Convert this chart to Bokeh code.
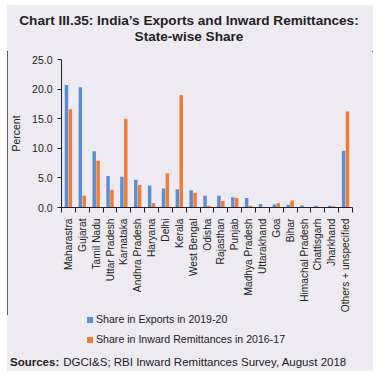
from bokeh.plotting import figure
from bokeh.layouts import column
from bokeh.models import FixedTicker, NumeralTickFormatter, Range1d, Div
from bokeh.embed import file_html
from bokeh.resources import INLINE
import numpy as np

states = ["Maharastra", "Gujarat", "Tamil Nadu", "Uttar Pradesh", "Karnataka",
          "Andhra Pradesh", "Haryana", "Delhi", "Kerala", "West Bengal", "Odisha",
          "Rajasthan", "Punjab", "Madhya Pradesh", "Uttarakhand", "Goa", "Bihar",
          "Himachal Pradesh", "Chattisgarh", "Jharkhand", "Others + unspecified"]
exports_share = [20.7, 20.3, 9.5, 5.3, 5.2, 4.7, 3.7, 3.2, 3.1, 2.9, 2.0,
                 2.0, 1.75, 1.6, 0.6, 0.5, 0.45, 0.35, 0.3, 0.3, 9.6]
remit_share = [16.6, 2.0, 7.9, 3.0, 15.0, 3.8, 0.7, 5.8, 19.0, 2.5, 0.3,
               1.1, 1.6, 0.3, 0.1, 0.7, 1.2, 0.0, 0.0, 0.2, 16.2]
y_ticks = [0, 5, 10, 15, 20, 25]
series_names = ["Share in Exports in 2019-20", "Share in Inward Remittances in 2016-17"]
title_lines = ["Chart III.35: India\u2019s Exports and Inward Remittances:", "State-wise Share"]
source_label = "Sources:"
source_text = "DGCI&amp;S; RBI Inward Remittances Survey, August 2018"
BLUE = "#5B8DD6"
ORANGE = "#EE7D31"
BG = "#EEEAF1"
INK = "#222222"
FONT = "Liberation Sans"

W = 366
HEAD_H, MAIN_H, FOOT_H = 46, 264, 56

# ---- header (title) ----
head = Div(width=W, height=HEAD_H,
           text=("<div style=\"position:relative;width:%dpx;height:%dpx;\">"
                 "<div style=\"position:absolute;left:0;top:8px;width:%dpx;text-align:center;"
                 "font-family:'%s';font-weight:bold;font-size:13.6px;line-height:16.3px;color:%s;"
                 "white-space:nowrap;\">%s<br>%s</div></div>")
           % (W, HEAD_H, W - 2, FONT, INK, title_lines[0], title_lines[1]),
           styles={"margin": "0", "padding": "0", "background-color": BG})

# ---- main chart ----
n = len(states)
idx = np.arange(1, n + 1)
p = figure(width=W, height=MAIN_H, output_backend="svg", toolbar_location=None,
           x_range=Range1d(0.5, n + 0.5), y_range=Range1d(0, 25),
           min_border_left=51, min_border_right=21, min_border_top=8, min_border_bottom=108)
p.background_fill_color = BG
p.border_fill_color = BG
p.outline_line_color = None
p.grid.grid_line_color = None

p.vbar(x=idx - 0.14, top=exports_share, width=0.25, fill_color=BLUE, line_color=None)
p.vbar(x=idx + 0.14, top=remit_share, width=0.25, fill_color=ORANGE, line_color=None)

xa = p.xaxis[0]
xa.ticker = FixedTicker(ticks=list(idx), minor_ticks=list(np.arange(0.5, n + 1, 1.0)))
xa.major_label_overrides = {int(i): s for i, s in zip(idx, states)}
xa.major_label_orientation = np.pi / 2
xa.major_tick_line_color = None
xa.major_tick_out = 0
xa.major_tick_in = 0
xa.minor_tick_line_color = INK
xa.minor_tick_out = 5
xa.minor_tick_in = 0
xa.major_label_standoff = 6
xa.axis_line_color = INK
xa.major_label_text_font = FONT
xa.major_label_text_font_size = "10.2px"
xa.major_label_text_color = INK

ya = p.yaxis[0]
ya.ticker = FixedTicker(ticks=y_ticks)
ya.formatter = NumeralTickFormatter(format="0.0")
ya.minor_tick_line_color = None
ya.major_tick_out = 4
ya.major_tick_in = 0
ya.major_label_standoff = 5
ya.major_tick_line_color = INK
ya.axis_line_color = INK
ya.major_label_text_font = FONT
ya.major_label_text_font_size = "10.5px"
ya.major_label_text_color = INK
ya.axis_label = "Percent"
ya.axis_label_text_font = FONT
ya.axis_label_text_font_size = "10.5px"
ya.axis_label_text_font_style = "normal"
ya.axis_label_text_color = INK
ya.axis_label_standoff = 7

# ---- footer (legend + sources) ----
def swatch(col, top):
    return ("<div style=\"position:absolute;left:80px;top:%.1fpx;width:6px;height:6px;"
            "background:%s;\"></div>" % (top, col))

def line(txt, left, top, size, weight="normal"):
    return ("<div style=\"position:absolute;left:%.1fpx;top:%.1fpx;white-space:nowrap;"
            "font-family:'%s';font-size:%s;font-weight:%s;line-height:13px;color:%s;\">%s</div>"
            % (left, top, FONT, size, weight, INK, txt))

foot_html = "<div style=\"position:relative;width:%dpx;height:%dpx;\">" % (W, FOOT_H)
for name, col, cy in zip(series_names, [BLUE, ORANGE], [4.7, 24.7]):
    foot_html += swatch(col, cy - 3)
    foot_html += line(name, 89, cy - 6.8, "10.6px")
foot_html += line(source_label, 3, 40.5, "11.5px", "bold")
foot_html += line(source_text, 56.3, 40.5, "11.5px")
foot_html += "</div>"
foot = Div(width=W, height=FOOT_H, text=foot_html,
           styles={"margin": "0", "padding": "0", "background-color": BG})

layout = column(head, p, foot, spacing=0)
layout.styles = {"outline": "1px solid #333", "outline-offset": "-1px",
                 "margin-left": "7px", "margin-top": "5px", "width": "366px",
                 "background-color": BG}

open("out.html", "w").write(file_html(layout, INLINE))
